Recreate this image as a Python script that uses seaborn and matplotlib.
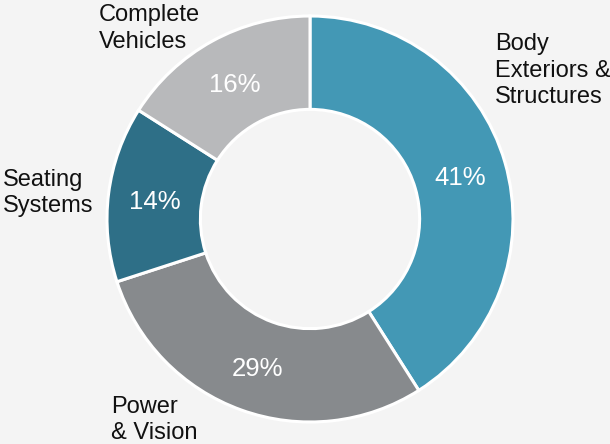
import matplotlib
matplotlib.use("Agg")
import matplotlib.pyplot as plt
import matplotlib.transforms as mtransforms
import seaborn as sns

# Segment data, clockwise from 12 o'clock
segments = ["Body\nExteriors &\nStructures", "Power\n& Vision", "Seating\nSystems", "Complete\nVehicles"]
shares = [41, 29, 14, 16]
colors = ["#4398b5", "#878a8d", "#2e6f87", "#b8b9bb"]

# Where each segment name sits (figure fraction, top-left anchor)
name_pos = [(0.812, 0.925), (0.182, 0.108), (0.004, 0.620), (0.162, 0.990)]

sns.set_theme(style="white")
plt.rcParams["font.family"] = ["Liberation Sans", "DejaVu Sans"]

fig = plt.figure(figsize=(6.10, 4.44), dpi=100)
fig.patch.set_facecolor("#f4f4f4")
ax = fig.add_axes([0, 0, 1, 1])
ax.set_facecolor("#f4f4f4")

# pixel scale: ring centre at (310, 219) px, outer radius 203 px
R = 203.0
cx, cy = 310.0, 444 - 219.0

wedges, _, autotexts = ax.pie(
    shares,
    colors=colors,
    startangle=90,
    counterclock=False,
    radius=1.0,
    autopct=lambda p: f"{p:.0f}%",
    pctdistance=0.77,
    wedgeprops=dict(width=0.46, edgecolor="white", linewidth=2.2),
    textprops=dict(color="white", fontsize=18.5),
)
ax.set_xlim(-cx / R, (610 - cx) / R)
ax.set_ylim(-cy / R, (444 - cy) / R)
ax.set_aspect("auto")
ax.axis("off")

# nudge the percentage labels slightly downward
shift = mtransforms.ScaledTranslation(0, -2.5 / 100, fig.dpi_scale_trans)
for t in autotexts:
    t.set_transform(t.get_transform() + shift)

for name, (x, y) in zip(segments, name_pos):
    fig.text(x, y, name, ha="left", va="top", fontsize=17,
             color="#111111", linespacing=1.25)

fig.savefig("out.png", dpi=100, facecolor=fig.get_facecolor())
